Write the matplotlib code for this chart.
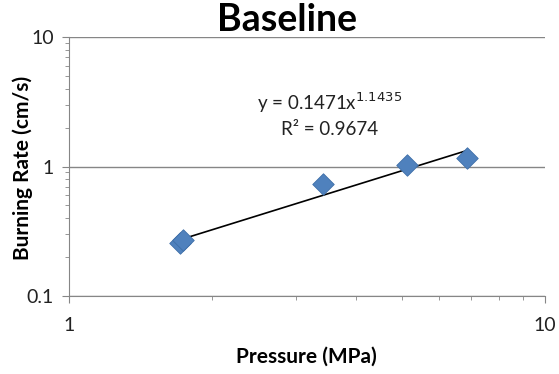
import numpy as np
import matplotlib.pyplot as plt
from matplotlib.ticker import LogLocator, NullFormatter, FixedFormatter, FixedLocator

plt.rcParams['font.family'] = ['Lato', 'DejaVu Sans']

# datos
presion = [1.71, 1.74, 3.42, 5.12, 6.87]
velocidad = [0.255, 0.27, 0.73, 1.03, 1.16]

# linea de tendencia (potencial) con los coeficientes del grafico
coef_a = 0.1471
coef_b = 1.1435
r2 = 0.9674

fig = plt.figure(figsize=(5.59, 3.74), dpi=100)
ax = fig.add_axes([0.1234, 0.2086, 0.975 - 0.1234, 0.901 - 0.2086])

x_tend = np.linspace(min(presion), max(presion), 50)
y_tend = coef_a * x_tend ** coef_b
ax.plot(x_tend, y_tend, color='black', lw=1.2, zorder=2)

ax.scatter(presion, velocidad, marker='D', s=120, color='#4f81bd',
           edgecolor='#3f6fa8', linewidth=0.6, zorder=3)

ax.set_xscale('log')
ax.set_yscale('log')
ax.set_xlim(1, 10)
ax.set_ylim(0.1, 10)

ax.xaxis.set_major_locator(FixedLocator([1, 10]))
ax.xaxis.set_major_formatter(FixedFormatter(['1', '10']))
ax.yaxis.set_major_locator(FixedLocator([0.1, 1, 10]))
ax.yaxis.set_major_formatter(FixedFormatter(['0.1', '1', '10']))
ax.xaxis.set_minor_locator(LogLocator(base=10, subs=np.arange(2, 10)))
ax.yaxis.set_minor_locator(LogLocator(base=10, subs=np.arange(2, 10)))
ax.xaxis.set_minor_formatter(NullFormatter())
ax.yaxis.set_minor_formatter(NullFormatter())

ax.tick_params(which='major', length=5, color='#868686', labelsize=14, labelcolor='#222222', pad=6)
ax.tick_params(which='minor', length=3, color='#868686')
ax.tick_params(axis='x', pad=10)

for lado in ['top', 'right']:
    ax.spines[lado].set_visible(False)
for lado in ['left', 'bottom']:
    ax.spines[lado].set_color('#868686')

ax.yaxis.grid(True, which='major', color='#868686', lw=1)

fig.text(287 / 559, 1 - 20 / 374, 'Baseline', fontsize=27, fontweight='bold',
         ha='center', va='center')
fig.text(306 / 559, 1 - 357 / 374, 'Pressure (MPa)', fontsize=15, fontweight='bold',
         ha='center', va='center')
fig.text(23 / 559, 1 - 168 / 374, 'Burning Rate (cm/s)', fontsize=15, fontweight='bold',
         ha='center', va='center', rotation=90)

ax.text(0.548, 0.745, 'y = 0.1471x$^{1.1435}$', transform=ax.transAxes,
        ha='center', va='center', fontsize=13.5, color='#222222')
ax.text(0.548, 0.641, 'R² = 0.9674', transform=ax.transAxes,
        ha='center', va='center', fontsize=13.5, color='#222222')

fig.savefig('out.png', dpi=100)
